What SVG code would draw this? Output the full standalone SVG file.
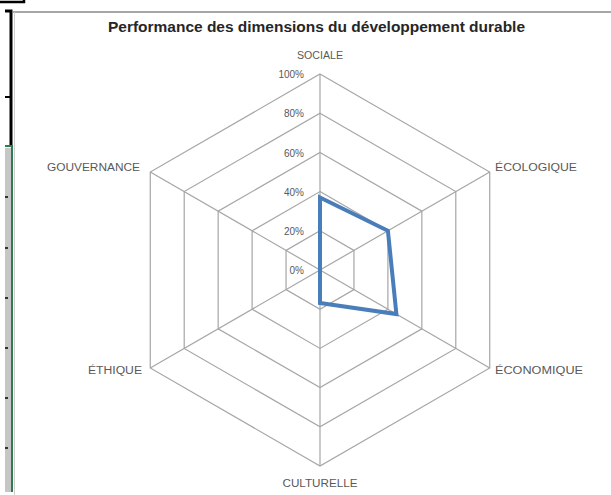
<svg xmlns="http://www.w3.org/2000/svg" width="611" height="495" viewBox="0 0 611 495">
<style>
.grid{fill:none;stroke:#a6a6a6;stroke-width:1.2}
.spoke{stroke:#a6a6a6;stroke-width:1.2}
.cat{font-family:"Liberation Sans",Arial,sans-serif;font-size:10px;fill:#595959}
.pct{font-family:"Liberation Sans",Arial,sans-serif;font-size:10px;fill:#595959;text-anchor:end}
.title{font-family:"Liberation Sans",Arial,sans-serif;font-size:14px;font-weight:bold;fill:#262626}
</style>
<rect width="611" height="495" fill="#ffffff"/>
<g id="frame">
<path d="M0,2 H24 V0" fill="none" stroke="#000" stroke-width="2.5"/>
<path d="M5,11 H11 V145" fill="none" stroke="#000" stroke-width="3"/>
<line x1="5" y1="97" x2="11" y2="97" stroke="#000" stroke-width="2"/>
<rect x="5" y="148" width="6" height="344" fill="#c6c6c6"/>
<path d="M5,146 H12 V492" fill="none" stroke="#2e7d4f" stroke-width="2"/>
<g stroke="#000" stroke-width="1.5">
<line x1="5" y1="197" x2="8" y2="197"/><line x1="5" y1="248" x2="8" y2="248"/><line x1="5" y1="298" x2="8" y2="298"/><line x1="5" y1="348" x2="8" y2="348"/><line x1="5" y1="398" x2="8" y2="398"/><line x1="5" y1="448" x2="8" y2="448"/>
</g>
<line x1="13" y1="12" x2="611" y2="12" stroke="#a6a6a6" stroke-width="2"/>
<line x1="14.5" y1="12" x2="14.5" y2="495" stroke="#d0d0d0" stroke-width="1"/>
</g>
<text class="title" x="108" y="32" textLength="417" lengthAdjust="spacingAndGlyphs">Performance des dimensions du développement durable</text>
<g id="grid">
<polygon class="grid" points="320,230.8 353.95,250.4 353.95,289.6 320,309.2 286.05,289.6 286.05,250.4"/>
<polygon class="grid" points="320,191.6 387.9,230.8 387.9,309.2 320,348.4 252.1,309.2 252.1,230.8"/>
<polygon class="grid" points="320,152.4 421.84,211.2 421.84,328.8 320,387.6 218.16,328.8 218.16,211.2"/>
<polygon class="grid" points="320,113.2 455.79,191.6 455.79,348.4 320,426.8 184.21,348.4 184.21,191.6"/>
<polygon class="grid" points="320,74 489.74,172 489.74,368 320,466 150.26,368 150.26,172"/>
</g>
<g id="connectors">
<line class="spoke" x1="320" y1="270" x2="320" y2="74"/>
<line class="spoke" x1="320" y1="270" x2="489.74" y2="172"/>
<line class="spoke" x1="320" y1="270" x2="489.74" y2="368"/>
<line class="spoke" x1="320" y1="270" x2="320" y2="466"/>
<line class="spoke" x1="320" y1="270" x2="150.26" y2="368"/>
<line class="spoke" x1="320" y1="270" x2="150.26" y2="172"/>
</g>
<g id="axis-labels">
<text class="pct" x="304" y="78">100%</text>
<text class="pct" x="304" y="117">80%</text>
<text class="pct" x="304" y="157">60%</text>
<text class="pct" x="304" y="196">40%</text>
<text class="pct" x="304" y="235">20%</text>
<text class="pct" x="304" y="274">0%</text>
</g>
<g id="series">
<polygon points="320,197.5 387.9,230.8 396.4,314.1 320,303 320,270 320,270" fill="none" stroke="#4a7ebb" stroke-width="4" stroke-linejoin="miter"/>
</g>
<g id="node-sociale"><text class="cat" x="320" y="59" text-anchor="middle" textLength="46" lengthAdjust="spacingAndGlyphs">SOCIALE</text></g>
<g id="node-ecologique"><text class="cat" x="495" y="171" textLength="82" lengthAdjust="spacingAndGlyphs">ÉCOLOGIQUE</text></g>
<g id="node-economique"><text class="cat" x="495" y="374" textLength="88" lengthAdjust="spacingAndGlyphs">ÉCONOMIQUE</text></g>
<g id="node-culturelle"><text class="cat" x="320" y="487" text-anchor="middle" textLength="75" lengthAdjust="spacingAndGlyphs">CULTURELLE</text></g>
<g id="node-ethique"><text class="cat" x="142" y="374" text-anchor="end" textLength="54" lengthAdjust="spacingAndGlyphs">ÉTHIQUE</text></g>
<g id="node-gouvernance"><text class="cat" x="140" y="171" text-anchor="end" textLength="93" lengthAdjust="spacingAndGlyphs">GOUVERNANCE</text></g>
</svg>
